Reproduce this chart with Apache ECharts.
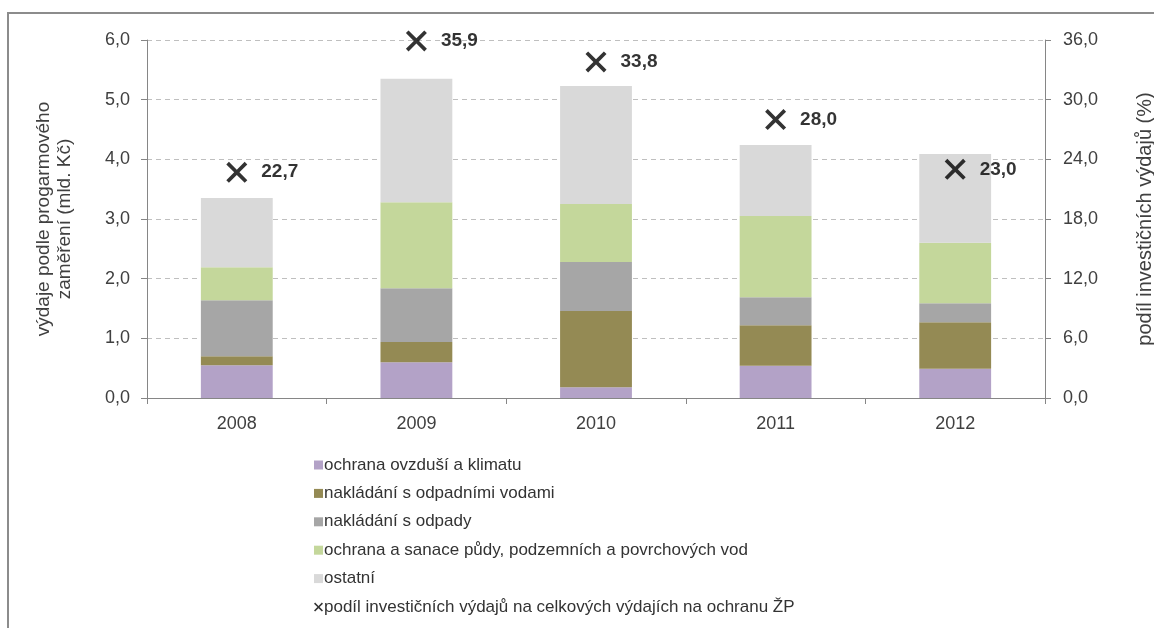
<!DOCTYPE html>
<html>
<head>
<meta charset="utf-8">
<script src="https://cdn.jsdelivr.net/npm/echarts@6/dist/echarts.min.js"></script>
<style>
  html, body { margin: 0; padding: 0; background: #fff; }
  #chart { width: 1154px; height: 628px; }
</style>
</head>
<body>
<div id="chart"></div>
<script>
  // data
  const years = ['2008', '2009', '2010', '2011', '2012'];
  const ovzdusi = [0.55, 0.60, 0.18, 0.54, 0.49];
  const odpadniVody = [0.15, 0.34, 1.28, 0.68, 0.78];
  const odpady = [0.94, 0.90, 0.82, 0.47, 0.32];
  const puda = [0.55, 1.44, 0.97, 1.36, 1.01];
  const ostatni = [1.16, 2.07, 1.98, 1.19, 1.49];
  const podil = [22.7, 35.9, 33.8, 28.0, 23.0];

  const names = [
    'ochrana ovzduší a klimatu',
    'nakládání s odpadními vodami',
    'nakládání s odpady',
    'ochrana a sanace půdy, podzemních a povrchových vod',
    'ostatní',
    'podíl investičních výdajů na celkových výdajích na ochranu ŽP'
  ];
  const colors = ['#B3A2C7', '#948A54', '#A6A6A6', '#C4D79B', '#D9D9D9'];

  const crossPath = 'path://M2,0 L8,6 L14,0 L16,2 L10,8 L16,14 L14,16 L8,10 L2,16 L0,14 L6,8 L0,2 Z';
  const comma = v => v.toFixed(1).replace('.', ',');
  const font = 'Liberation Sans, Arial, sans-serif';

  const chart = echarts.init(document.getElementById('chart'));

  function barSeries(i, data) {
    return {
      name: names[i],
      type: 'bar',
      stack: 'total',
      barWidth: '40%',
      itemStyle: { color: colors[i] },
      data: data
    };
  }

  const option = {
    animation: false,
    textStyle: { fontFamily: font },
    graphic: [{
      type: 'rect',
      shape: { x: 8, y: 13, width: 1160, height: 640 },
      style: { fill: 'none', stroke: '#8c8c8c', lineWidth: 2 },
      silent: true
    }],
    grid: { left: 147, right: 109, top: 40, bottom: 230, outerBoundsMode: 'none' },
    legend: {
      orient: 'vertical',
      left: 309,
      top: 451,
      itemWidth: 9,
      itemHeight: 9,
      itemGap: 10.4,
      textStyle: { fontSize: 17, lineHeight: 18, color: '#333', fontFamily: font, padding: [0, 0, 0, -4] },
      data: names.map((n, i) => i < 5 ? { name: n, icon: 'rect' } : { name: n, icon: crossPath, itemStyle: { color: '#000' } })
    },
    xAxis: {
      type: 'category',
      data: years,
      axisLine: { lineStyle: { color: '#868686', width: 1 } },
      axisTick: { show: true, length: 6, lineStyle: { color: '#868686' } },
      axisLabel: { fontSize: 18, color: '#404040', margin: 17 }
    },
    yAxis: [{
      type: 'value',
      min: 0,
      max: 6,
      interval: 1,
      name: 'výdaje podle progarmového\nzaměření (mld. Kč)',
      nameLocation: 'middle',
      nameGap: 72,
      nameTextStyle: { fontSize: 19, color: '#404040', lineHeight: 21 },
      axisLine: { show: true, lineStyle: { color: '#868686' } },
      axisTick: { show: true, length: 6, lineStyle: { color: '#868686' } },
      axisLabel: { fontSize: 18, color: '#404040', margin: 17, formatter: v => comma(v) },
      splitLine: { lineStyle: { type: [5, 4], color: '#BFBFBF' } }
    }, {
      type: 'value',
      min: 0,
      max: 36,
      interval: 6,
      name: 'podíl investičních výdajů (%)',
      nameLocation: 'middle',
      nameGap: 90,
      nameTextStyle: { fontSize: 20, color: '#404040' },
      axisLine: { show: true, lineStyle: { color: '#868686' } },
      axisTick: { show: true, length: 6, lineStyle: { color: '#868686' } },
      axisLabel: { fontSize: 18, color: '#404040', margin: 18, formatter: v => comma(v) },
      splitLine: { show: false }
    }],
    series: [
      barSeries(0, ovzdusi),
      barSeries(1, odpadniVody),
      barSeries(2, odpady),
      barSeries(3, puda),
      barSeries(4, ostatni),
      {
        name: names[5],
        type: 'scatter',
        yAxisIndex: 1,
        symbol: crossPath,
        symbolSize: 21,
        itemStyle: { color: '#000' },
        label: {
          show: true,
          position: 'right',
          distance: 14,
          fontSize: 19,
          fontWeight: 'bold',
          color: '#000',
          formatter: p => comma(p.value)
        },
        data: podil
      }
    ]
  };

  chart.setOption(option);
</script>
</body>
</html>
